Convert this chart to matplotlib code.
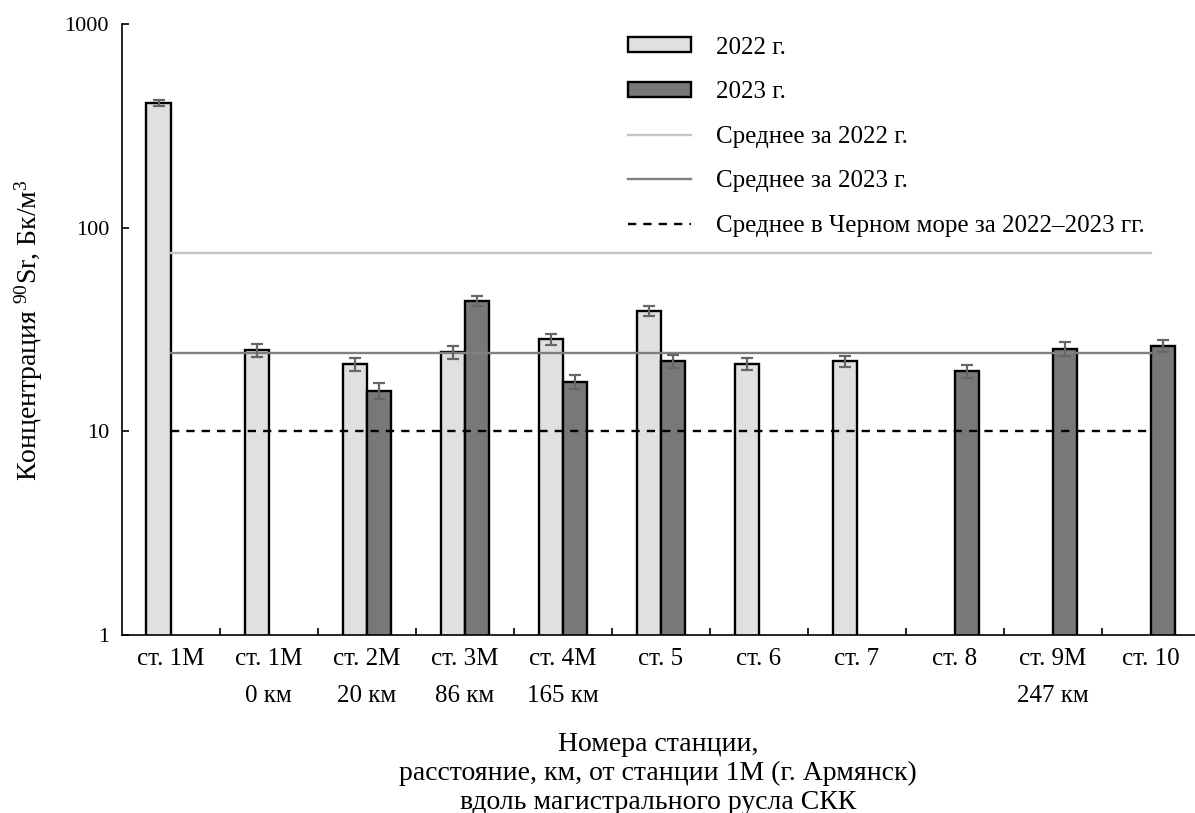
import numpy as np
import matplotlib
matplotlib.use("Agg")
import matplotlib.pyplot as plt
from matplotlib.patches import Patch
from matplotlib.lines import Line2D
from matplotlib.ticker import FixedLocator, NullLocator

plt.rcParams['font.family'] = ['Liberation Serif', 'DejaVu Serif']
plt.rcParams['mathtext.fontset'] = 'custom'
plt.rcParams['mathtext.rm'] = 'Liberation Serif'

# Stations along the canal and distances from station 1М
stations = ["ст. 1М", "ст. 1М", "ст. 2М", "ст. 3М", "ст. 4М", "ст. 5",
            "ст. 6", "ст. 7", "ст. 8", "ст. 9М", "ст. 10"]
distances = ["", "0 км", "20 км", "86 км", "165 км", "", "", "", "", "247 км", ""]

# 90Sr concentration, Bq/m3 (nan = no sample)
nan = np.nan
sr_2022 = [410, 25.1, 21.5, 24.5, 28.4, 39.2, 21.5, 22.1, nan, nan, nan]
err_2022 = [14, 1.9, 1.6, 1.85, 1.7, 2.4, 1.5, 1.45, nan, nan, nan]
sr_2023 = [nan, nan, 15.9, 43.9, 17.6, 22.1, nan, nan, 19.8, 25.5, 26.3]
err_2023 = [nan, nan, 1.4, 2.6, 1.4, 1.6, nan, nan, 1.4, 1.9, 1.75]

mean_2022 = 75
mean_2023 = 24.4
mean_black_sea = 10

c_light = "#e0e0e0"
c_dark = "#787878"
c_mean22 = "#c4c4c4"
c_mean23 = "#808080"
c_err = "#666666"

fig = plt.figure(figsize=(11.95, 8.13), dpi=100)
ax = fig.add_axes([121.5 / 1195, 178 / 813, 1073.5 / 1195, 610.5 / 813])

x = np.arange(len(stations))
w = 0.245

ax.bar(x - w / 2, sr_2022, width=w, color=c_light, edgecolor="black",
       linewidth=1.7, zorder=2)
ax.bar(x + w / 2, sr_2023, width=w, color=c_dark, edgecolor="black",
       linewidth=1.7, zorder=2)
ax.errorbar(x - w / 2, sr_2022, yerr=err_2022, fmt="none", ecolor=c_err,
            elinewidth=1.6, capsize=4, capthick=1.6, zorder=4)
ax.errorbar(x + w / 2, sr_2023, yerr=err_2023, fmt="none", ecolor=c_err,
            elinewidth=1.6, capsize=4, capthick=1.6, zorder=4)

ax.plot([x[0], x[-1]], [mean_2022, mean_2022], color=c_mean22, lw=1.7, zorder=3)
ax.plot([x[0], x[-1]], [mean_2023, mean_2023], color=c_mean23, lw=1.7, zorder=3)
ax.plot([x[0], x[-1]], [mean_black_sea, mean_black_sea], color="black", lw=1.7,
        linestyle=(0, (3.5, 3)), zorder=3)

ax.set_yscale("log")
ax.set_ylim(1, 1000)
ax.set_xlim(-0.5, 10.45)

ax.yaxis.set_major_locator(FixedLocator([1, 10, 100, 1000]))
ax.yaxis.set_minor_locator(NullLocator())
ax.set_yticklabels(["1", "10", "100", "1000"])
ax.tick_params(axis="y", direction="in", length=5, width=1.2, pad=9,
               labelsize=16)

ax.set_xticks(x)
ax.set_xticklabels([f"{s}\n{d}" for s, d in zip(stations, distances)],
                   linespacing=1.9)
ax.set_xticks(x[:-1] + 0.5, minor=True)
ax.tick_params(axis="x", which="major", length=0, pad=9, labelsize=18)
ax.tick_params(axis="x", which="minor", direction="in", length=5, width=1.2)

for s in ["top", "right"]:
    ax.spines[s].set_visible(False)
for s in ["left", "bottom"]:
    ax.spines[s].set_linewidth(1.2)

ax.set_ylabel("Концентрация $\\mathregular{^{90}}$Sr, Бк/м$\\mathregular{^{3}}$",
              fontsize=20, labelpad=14)
ax.set_xlabel("Номера станции,\nрасстояние, км, от станции 1М (г. Армянск)\n"
              "вдоль магистрального русла СКК", fontsize=20, linespacing=1.2,
              labelpad=18)

handles = [
    Patch(facecolor=c_light, edgecolor="black", linewidth=1.7),
    Patch(facecolor=c_dark, edgecolor="black", linewidth=1.7),
    Line2D([], [], color=c_mean22, lw=1.7),
    Line2D([], [], color=c_mean23, lw=1.7),
    Line2D([], [], color="black", lw=1.7, linestyle=(0, (3.5, 3))),
]
labels = ["2022 г.", "2023 г.", "Среднее за 2022 г.", "Среднее за 2023 г.",
          "Среднее в Черном море за 2022–2023 гг."]
ax.legend(handles, labels, loc="upper left", bbox_to_anchor=(0.472, 0.98),
          frameon=False, fontsize=18, handlelength=2.5, handleheight=0.55,
          handletextpad=1.0, labelspacing=0.9, borderpad=0, borderaxespad=0)

fig.savefig("out.png", dpi=100)
